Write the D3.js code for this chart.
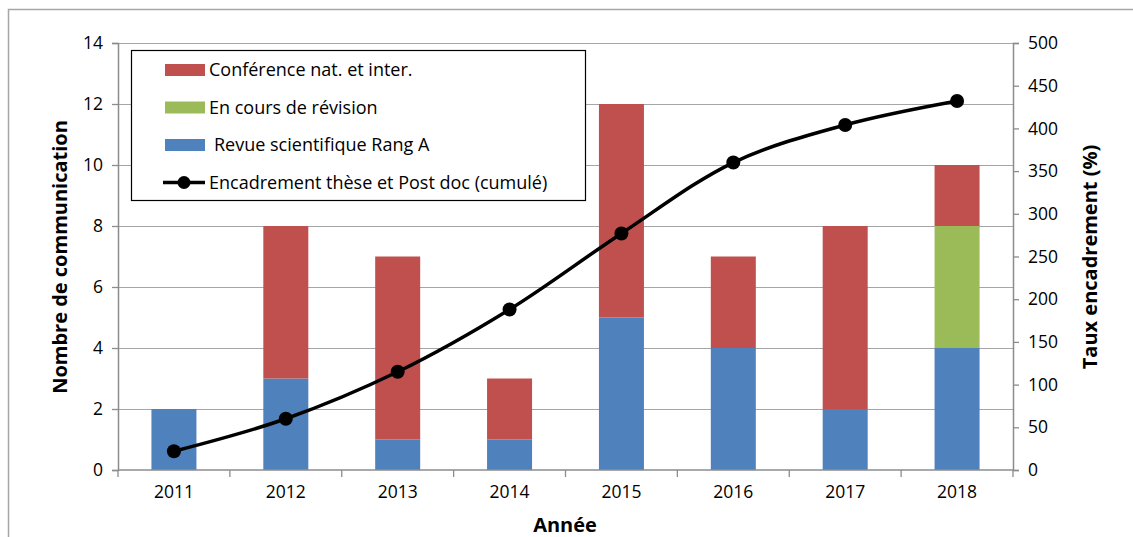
<!DOCTYPE html>
<html>
<head>
<meta charset="utf-8">
<script src="https://cdn.jsdelivr.net/npm/d3@7"></script>
<style>
  body { margin: 0; background: #fff; }
  text { font-family: "Open Sans", sans-serif; }
</style>
</head>
<body>
<script>
var years = ["2011", "2012", "2013", "2014", "2015", "2016", "2017", "2018"];
var revue = [2, 3, 1, 1, 5, 4, 2, 4];
var revision = [0, 0, 0, 0, 0, 0, 0, 4];
var conference = [0, 5, 6, 2, 7, 3, 6, 2];
var encadrement = [22, 60, 115, 188, 277, 360, 404, 432];
var leftTicks = [0, 2, 4, 6, 8, 10, 12, 14];
var rightTicks = [0, 50, 100, 150, 200, 250, 300, 350, 400, 450, 500];

var W = 1133, H = 537;
var mLeft = 118, mRight = 1013, mTop = 43, mBottom = 470;

var svg = d3.select("body").append("svg")
    .attr("width", W)
    .attr("height", H)

// outer chart border
svg.append("rect")
    .attr("x", 8.5).attr("y", 9.5)
    .attr("width", 1140).attr("height", 540)
    .attr("fill", "none")
    .attr("stroke", "#a6a6a6")
    .attr("stroke-width", 1.5)

var xb = d3.scaleBand().domain(years).range([mLeft, mRight])
var y = d3.scaleLinear().domain([0, 14]).range([mBottom, mTop])
var y2 = d3.scaleLinear().domain([0, 500]).range([mBottom, mTop])

// gridlines
svg.append("g").selectAll("line")
    .data(leftTicks.slice(1))
    .enter().append("line")
    .attr("x1", mLeft).attr("x2", mRight)
    .attr("y1", function(d) { return y(d) + 0.5 })
    .attr("y2", function(d) { return y(d) + 0.5 })
    .attr("stroke", "#a6a6a6")
    .attr("stroke-width", 1.2)

// stacked bars
var series = [
    { name: "Revue scientifique Rang A", vals: revue, color: "#4F81BD" },
    { name: "En cours de révision", vals: revision, color: "#9BBB59" },
    { name: "Conférence nat. et inter.", vals: conference, color: "#C0504D" }
];
var bw = 45;
years.forEach(function(yr, i) {
    var base = 0;
    series.forEach(function(s) {
        var v = s.vals[i];
        if (v > 0) {
            svg.append("rect")
                .attr("x", xb(yr) + xb.bandwidth() / 2 - bw / 2)
                .attr("width", bw)
                .attr("y", y(base + v))
                .attr("height", y(base) - y(base + v))
                .attr("fill", s.color)
        }
        base += v;
    })
})

// axes
var axL = svg.append("g")
    .attr("transform", "translate(" + mLeft + ",0)")
    .call(d3.axisLeft(y).tickValues(leftTicks).tickSize(6).tickPadding(9))
var axR = svg.append("g")
    .attr("transform", "translate(" + mRight + ",0)")
    .call(d3.axisRight(y2).tickValues(rightTicks).tickSize(6).tickPadding(9))
var axB = svg.append("g")
    .attr("transform", "translate(0," + mBottom + ")")
    .call(d3.axisBottom(xb).tickSize(0).tickPadding(16))

// category boundary ticks on x axis
svg.append("g").selectAll("line")
    .data(years.concat(["end"]))
    .enter().append("line")
    .attr("x1", function(d, i) { return mLeft + i * xb.step() })
    .attr("x2", function(d, i) { return mLeft + i * xb.step() })
    .attr("y1", mBottom).attr("y2", mBottom + 7)
    .attr("stroke", "#8c8c8c")
    .attr("stroke-width", 1.3)

;[axL, axR, axB].forEach(function(a) {
    a.selectAll(".domain").attr("stroke", "#8c8c8c").attr("stroke-width", 1.5)
    a.selectAll(".tick line").attr("stroke", "#8c8c8c").attr("stroke-width", 1.3)
    a.selectAll(".tick text")
        .attr("font-family", "Open Sans, sans-serif")
        .attr("font-size", 17.5)
        .attr("fill", "#000")
})
axB.select(".domain").attr("d", "M" + mLeft + ",0H" + mRight)

// line series
var line = d3.line()
    .x(function(d, i) { return xb(years[i]) + xb.bandwidth() / 2 })
    .y(function(d) { return y2(d) })
    .curve(d3.curveCatmullRom.alpha(0.5))
svg.append("path")
    .datum(encadrement)
    .attr("d", line)
    .attr("fill", "none")
    .attr("stroke", "#000")
    .attr("stroke-width", 3.5)
svg.append("g").selectAll("circle")
    .data(encadrement)
    .enter().append("circle")
    .attr("cx", function(d, i) { return xb(years[i]) + xb.bandwidth() / 2 })
    .attr("cy", function(d) { return y2(d) })
    .attr("r", 7)
    .attr("fill", "#000")

// axis titles
svg.append("text")
    .attr("transform", "translate(67,257) rotate(-90)")
    .attr("text-anchor", "middle")
    .attr("font-size", 20).attr("font-weight", "bold")
    .text("Nombre de communication")
svg.append("text")
    .attr("transform", "translate(1097,257) rotate(-90)")
    .attr("text-anchor", "middle")
    .attr("font-size", 20).attr("font-weight", "bold")
    .text("Taux encadrement (%)")
svg.append("text")
    .attr("x", 565).attr("y", 532)
    .attr("text-anchor", "middle")
    .attr("font-size", 20).attr("font-weight", "bold")
    .text("Année")

// legend
var legend = svg.append("g")
legend.append("rect")
    .attr("x", 131.5).attr("y", 50.5)
    .attr("width", 454).attr("height", 150)
    .attr("fill", "#fff")
    .attr("stroke", "#000")
    .attr("stroke-width", 1.2)
var legItems = [
    { label: "Conférence nat. et inter.", color: "#C0504D", type: "bar", dx: 0 },
    { label: "En cours de révision", color: "#9BBB59", type: "bar", dx: 0 },
    { label: "Revue scientifique Rang A", color: "#4F81BD", type: "bar", dx: 5 },
    { label: "Encadrement thèse et Post doc (cumulé)", color: "#000", type: "line", dx: 0 }
];
legItems.forEach(function(d, i) {
    var cy = 70 + i * 37.5;
    if (d.type == "bar") {
        legend.append("rect")
            .attr("x", 165).attr("y", cy - 6)
            .attr("width", 40).attr("height", 12)
            .attr("fill", d.color)
    } else {
        legend.append("line")
            .attr("x1", 163).attr("x2", 205)
            .attr("y1", cy).attr("y2", cy)
            .attr("stroke", "#000").attr("stroke-width", 3.5)
        legend.append("circle")
            .attr("cx", 184).attr("cy", cy).attr("r", 6.5)
            .attr("fill", "#000")
    }
    legend.append("text")
        .attr("x", 209 + d.dx).attr("y", cy + 6)
        .attr("font-size", 18)
        .text(d.label)
})
</script>
</body>
</html>
